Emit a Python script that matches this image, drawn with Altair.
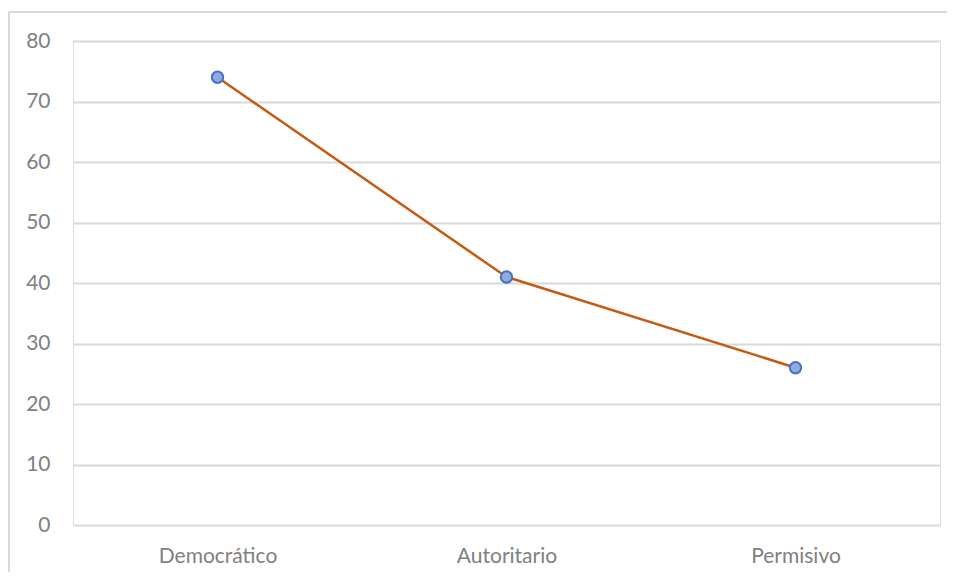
import altair as alt
import pandas as pd

categories = ["Democrático", "Autoritario", "Permisivo"]
values = [74, 41, 26]

df = pd.DataFrame({"estilo": categories, "valor": values})

FONT = "Lato"
LABEL_COLOR = "#808080"

x_enc = alt.X("estilo:N", sort=categories,
              scale=alt.Scale(type="point", padding=0.5),
              axis=alt.Axis(title=None, labelAngle=0, domain=False, ticks=False,
                            labelPadding=20, labelFontSize=21, labelColor=LABEL_COLOR,
                            labelFont=FONT, grid=False))
y_enc = alt.Y("valor:Q", scale=alt.Scale(domain=[0, 80], nice=False),
              axis=alt.Axis(title=None, values=[0, 10, 20, 30, 40, 50, 60, 70, 80],
                            domain=False, ticks=False, labelPadding=23,
                            labelFontSize=21, labelColor=LABEL_COLOR, labelFont=FONT,
                            gridColor="#d9d9d9", gridWidth=2))

base = alt.Chart(df)

line = base.mark_line(color="#C55A11", strokeWidth=2.5).encode(x=x_enc, y=y_enc)
points = base.mark_point(filled=True, fill="#8FAADC", stroke="#4472C4",
                         strokeWidth=2, size=130, opacity=1, fillOpacity=1).encode(x=x_enc, y=y_enc)

one = pd.DataFrame({"k": [0]})
top_border = alt.Chart(one).mark_rule(color="#d9d9d9", strokeWidth=2).encode(
    x=alt.value(-64), x2=alt.value(950), y=alt.value(-29))
left_border = alt.Chart(one).mark_rule(color="#d9d9d9", strokeWidth=2).encode(
    x=alt.value(-64), y=alt.value(-29), y2=alt.value(620))

chart = alt.layer(top_border, left_border, line, points).properties(
    width=867, height=484,
    padding={"left": 65, "top": 33, "right": 7, "bottom": 47},
    autosize=alt.AutoSizeParams(type="none"),
).configure_view(stroke=None).configure(background="white")

chart.save("out.html", embed_options={"renderer": "svg", "actions": False})
